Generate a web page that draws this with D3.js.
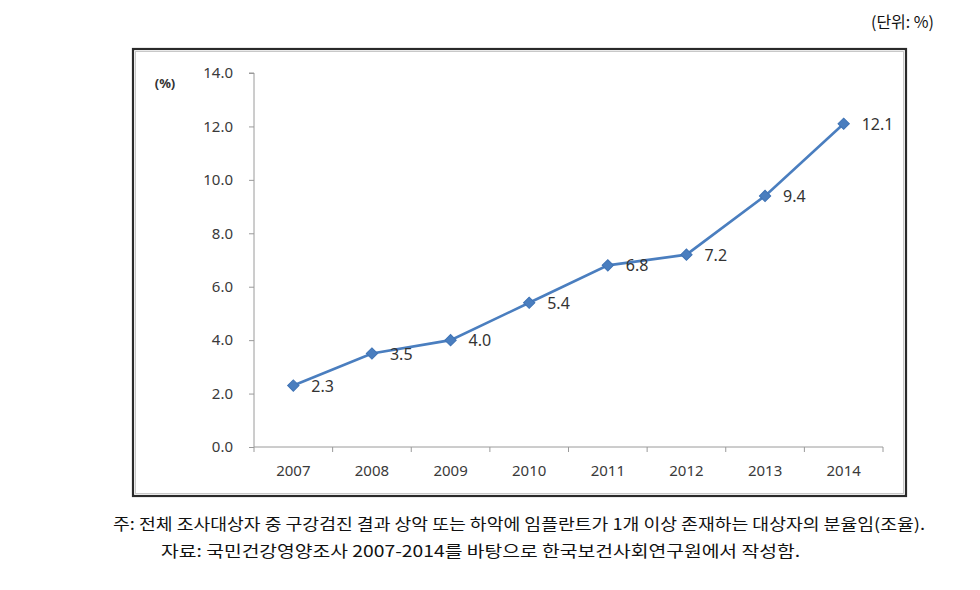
<!DOCTYPE html>
<html>
<head>
<meta charset="utf-8">
<script src="https://cdn.jsdelivr.net/npm/d3@7/dist/d3.min.js"></script>
<style>
  html, body { margin: 0; padding: 0; background: #fff; }
  svg { display: block; }
</style>
</head>
<body>
<svg id="chart" width="980" height="590"></svg>
<script>
const years = ["2007", "2008", "2009", "2010", "2011", "2012", "2013", "2014"];
const rates = [2.3, 3.5, 4.0, 5.4, 6.8, 7.2, 9.4, 12.1];
const yTicks = [0, 2, 4, 6, 8, 10, 12, 14];
const unitText = "(단위: %)";
const axisUnit = "(%)";
const notes = [
  "주: 전체 조사대상자 중 구강검진 결과 상악 또는 하악에 임플란트가 1개 이상 존재하는 대상자의 분율임(조율).",
  "자료: 국민건강영양조사 2007-2014를 바탕으로 한국보건사회연구원에서 작성함."
];

const svg = d3.select("#chart");
const font = "'Noto Sans', 'DejaVu Sans', sans-serif";

// frame
const frame = {x: 133, y: 49, w: 773, h: 447};
svg.append("rect").attr("x", frame.x).attr("y", frame.y).attr("width", frame.w).attr("height", frame.h)
  .attr("fill", "#fff").attr("stroke", "#2a2a2a").attr("stroke-width", 2.2);
svg.append("rect").attr("x", frame.x + 2.5).attr("y", frame.y + 2.5).attr("width", frame.w - 5).attr("height", frame.h - 5)
  .attr("fill", "none").attr("stroke", "#c8c8c8").attr("stroke-width", 1);

// unit
svg.append("text").attr("x", 934).attr("y", 28).attr("text-anchor", "end")
  .attr("font-family", "'Noto Sans CJK KR', sans-serif").attr("font-size", 16).attr("fill", "#111")
  .text(unitText);

const x = d3.scaleBand().domain(years).range([254, 883]).padding(0);
const y = d3.scaleLinear().domain([0, 14]).range([447, 73]);

const axisColor = "#9a9a9a";
// y axis
const yAxis = d3.axisLeft(y).tickValues(yTicks).tickFormat(d3.format(".1f")).tickSize(5).tickPadding(6);
const gy = svg.append("g").attr("transform", "translate(254,0)").call(yAxis);
gy.select(".domain").attr("stroke", axisColor).attr("d", `M-5,${y(14)}H0V${y(0)}`);
gy.selectAll(".tick line").attr("stroke", axisColor);
gy.selectAll(".tick text").attr("font-family", font).attr("font-size", 15).attr("fill", "#3a3a3a")
  .attr("x", -21);

// x axis
const gx = svg.append("g");
gx.append("line").attr("x1", x.range()[0]).attr("x2", x.range()[1]).attr("y1", y(0)).attr("y2", y(0))
  .attr("stroke", axisColor).attr("stroke-width", 1);
const bounds = years.map(d => x(d)).concat([x.range()[1]]);
gx.selectAll("line.tk").data(bounds).join("line").attr("class", "tk")
  .attr("x1", d => d).attr("x2", d => d).attr("y1", y(0)).attr("y2", y(0) + 5)
  .attr("stroke", axisColor);
gx.selectAll("text").data(years).join("text")
  .attr("x", d => x(d) + x.bandwidth() / 2).attr("y", y(0) + 29)
  .attr("text-anchor", "middle").attr("font-family", font).attr("font-size", 15).attr("fill", "#3a3a3a")
  .text(d => d);

// axis unit
svg.append("text").attr("x", 165).attr("y", 88).attr("text-anchor", "middle")
  .attr("font-family", font).attr("font-size", 13).attr("font-weight", "bold").attr("fill", "#333")
  .text(axisUnit);

// line
const cx = d => x(d) + x.bandwidth() / 2;
const data = years.map((d, i) => ({year: d, v: rates[i]}));
svg.append("path").datum(data)
  .attr("fill", "none").attr("stroke", "#4a7ebf").attr("stroke-width", 2.6)
  .attr("d", d3.line().x(d => cx(d.year)).y(d => y(d.v)));

svg.selectAll("path.mk").data(data).join("path").attr("class", "mk")
  .attr("transform", d => `translate(${cx(d.year)},${y(d.v)}) rotate(45)`)
  .attr("d", d3.symbol().type(d3.symbolSquare).size(64))
  .attr("fill", "#4a7ebf").attr("stroke", "#3f73b5").attr("stroke-width", 1);

svg.selectAll("text.lbl").data(data).join("text").attr("class", "lbl")
  .attr("x", d => cx(d.year) + 18).attr("y", d => y(d.v) + 6)
  .attr("font-family", font).attr("font-size", 16).attr("fill", "#333")
  .text(d => d.v.toFixed(1));

// notes
const noteLayout = [{x: 113, w: 812, y: 530}, {x: 161, w: 639, y: 557}];
svg.selectAll("text.note").data(notes).join("text").attr("class", "note")
  .attr("x", (d, i) => noteLayout[i].x).attr("y", (d, i) => noteLayout[i].y)
  .attr("textLength", (d, i) => noteLayout[i].w).attr("lengthAdjust", "spacingAndGlyphs")
  .attr("font-family", "'Noto Sans CJK KR', sans-serif").attr("font-size", 16).attr("fill", "#111")
  .text(d => d);
</script>
</body>
</html>
